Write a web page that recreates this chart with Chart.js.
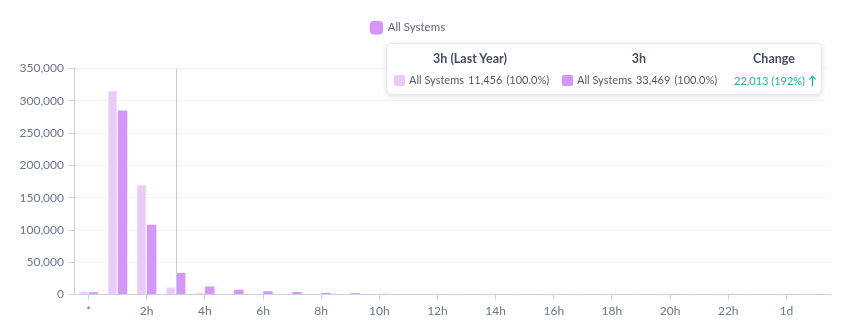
<!DOCTYPE html>
<html lang="en">
<head>
    <meta charset="UTF-8">
    <title>Response Time Distribution</title>
    <style>
        html, body {
            margin: 0;
            padding: 0;
            background: #fff;
            font-family: 'Lato', 'Open Sans', sans-serif;
        }
        .chart-wrap {
            position: relative;
            width: 858px;
            height: 334px;
        }
        .hover-card {
            position: absolute;
            left: 386px;
            top: 43px;
            width: 436px;
            height: 52px;
            background: #fff;
            border: 1px solid #e4e7ef;
            border-radius: 5px;
            box-shadow: 0 1px 5px rgba(60, 70, 100, 0.18);
            box-sizing: border-box;
            font-size: 11px;
            color: #4f596b;
        }
        .hover-card .head {
            position: absolute;
            top: 7px;
            width: 160px;
            text-align: center;
            font-weight: bold;
            font-size: 12.5px;
            color: #454e5f;
        }
        .hover-card .row {
            position: absolute;
            top: 29px;
            white-space: nowrap;
        }
        .hover-card .sw {
            display: inline-block;
            width: 11px;
            height: 11px;
            border-radius: 2px;
            vertical-align: -2px;
            margin-right: 4px;
        }
        .hover-card .gap { margin-left: 4px; }
        .hover-card .up { color: #1fb59c; }
        .hover-card .up b { font-size: 12px; }
    </style>
</head>
<body>
<div class="chart-wrap">
    <canvas id="durationChart" width="858" height="334"></canvas>
    <div class="hover-card" id="hoverCard"></div>
</div>

<script src="https://cdn.jsdelivr.net/npm/chart.js"></script>
<script>
    // duration buckets
    const categories = ['*', '1h', '2h', '3h', '4h', '5h', '6h', '7h', '8h', '9h', '10h', '11h', '12h',
        '13h', '14h', '15h', '16h', '17h', '18h', '19h', '20h', '21h', '22h', '23h', '1d', '2d'];

    const lastYear = [5000, 315000, 170000, 11456, 2500, 1500, 1200, 1000, 800, 600, 500, 400, 350,
        300, 250, 200, 200, 150, 150, 120, 100, 100, 100, 80, 80, 60];

    const thisYear = [3500, 285000, 108000, 33469, 12500, 7500, 5000, 4000, 3000, 2000, 1500, 1000, 800,
        700, 600, 500, 400, 350, 300, 250, 200, 200, 150, 150, 120, 100];

    const yTicks = [0, 50000, 100000, 150000, 200000, 250000, 300000, 350000];

    const seriesName = 'All Systems';
    const hoverIndex = 3;

    const lightPurple = '#ebc9fb';
    const darkPurple = '#d596f9';
    const axisColor = '#c9d0df';
    const textColor = '#6b7689';

    const fmt = n => n.toLocaleString('en-US');

    // vertical hover line at the selected bucket
    const crosshair = {
        id: 'crosshair',
        afterDatasetsDraw(chart) {
            const x = chart.scales.x.getPixelForValue(hoverIndex);
            const { top, bottom } = chart.chartArea;
            const c = chart.ctx;
            c.save();
            c.strokeStyle = '#c5cadb';
            c.lineWidth = 1;
            c.beginPath();
            c.moveTo(Math.round(x) + 0.5, top);
            c.lineTo(Math.round(x) + 0.5, bottom);
            c.stroke();
            c.restore();
        }
    };

    // extra room under the legend, and nudge it a bit left of the full-width centre
    const legendSpacing = {
        id: 'legendSpacing',
        beforeInit(chart) {
            const fit = chart.legend.fit;
            chart.legend.fit = function () {
                fit.bind(chart.legend)();
                this.height += 25;
            };
        },
        afterLayout(chart) {
            chart.legend.left -= 16;
            chart.legend.right -= 16;
        }
    };

    Chart.defaults.font.family = "'Lato', 'Open Sans', sans-serif";
    Chart.defaults.font.size = 12;
    Chart.defaults.color = textColor;

    const chart = new Chart(document.getElementById('durationChart'), {
        type: 'bar',
        data: {
            labels: categories,
            datasets: [
                {
                    label: seriesName + ' (Last Year)',
                    data: lastYear,
                    backgroundColor: lightPurple,
                    borderColor: '#f2dcfd',
                    borderWidth: 1
                },
                {
                    label: seriesName,
                    data: thisYear,
                    backgroundColor: darkPurple,
                    borderWidth: 0
                }
            ]
        },
        options: {
            responsive: false,
            animation: false,
            events: [],
            categoryPercentage: 0.68,
            barPercentage: 0.96,
            layout: { padding: { left: 18, right: 28, top: 12, bottom: 12 } },
            plugins: {
                tooltip: { enabled: false },
                legend: {
                    position: 'top',
                    labels: {
                        filter: item => item.datasetIndex === 1,
                        usePointStyle: true,
                        pointStyle: 'rectRounded',
                        boxWidth: 11,
                        boxHeight: 11,
                        padding: 10,
                        color: '#5c6679',
                        font: { size: 11.5 }
                    }
                }
            },
            scales: {
                x: {
                    grid: {
                        display: true,
                        offset: false,
                        drawOnChartArea: false,
                        drawTicks: true,
                        tickLength: 5,
                        color: axisColor
                    },
                    border: { color: axisColor },
                    ticks: {
                        autoSkip: false,
                        maxRotation: 0,
                        callback: (v, i) => (i % 2 === 0 ? categories[i] : null),
                        padding: 4
                    }
                },
                y: {
                    min: 0,
                    max: 350000,
                    afterBuildTicks: axis => {
                        axis.ticks = yTicks.map(v => ({ value: v }));
                    },
                    grid: {
                        color: '#f1f3f8',
                        tickColor: axisColor,
                        tickLength: 6
                    },
                    border: { color: axisColor },
                    ticks: {
                        callback: v => fmt(v),
                        padding: 4
                    },
                    afterFit: axis => { axis.width = 56; }
                }
            }
        },
        plugins: [crosshair, legendSpacing]
    });

    // hover summary card for the selected bucket
    const prev = lastYear[hoverIndex];
    const cur = thisYear[hoverIndex];
    const diff = cur - prev;
    const pct = Math.round(diff / prev * 100);
    const label = categories[hoverIndex];

    document.getElementById('hoverCard').innerHTML = `
        <div class="head" style="left:3px">${label} (Last Year)</div>
        <div class="head" style="left:172px">${label}</div>
        <div class="head" style="left:307px">Change</div>
        <div class="row" style="left:7px"><span class="sw" style="background:${lightPurple}"></span>${seriesName}<span class="gap">${fmt(prev)}</span><span class="gap">(100.0%)</span></div>
        <div class="row" style="left:175px"><span class="sw" style="background:${darkPurple}"></span>${seriesName}<span class="gap">${fmt(cur)}</span><span class="gap">(100.0%)</span></div>
        <div class="row up" style="left:347px">${fmt(diff)} (${pct}%) <b>&#x2191;</b></div>`;
</script>
</body>
</html>
